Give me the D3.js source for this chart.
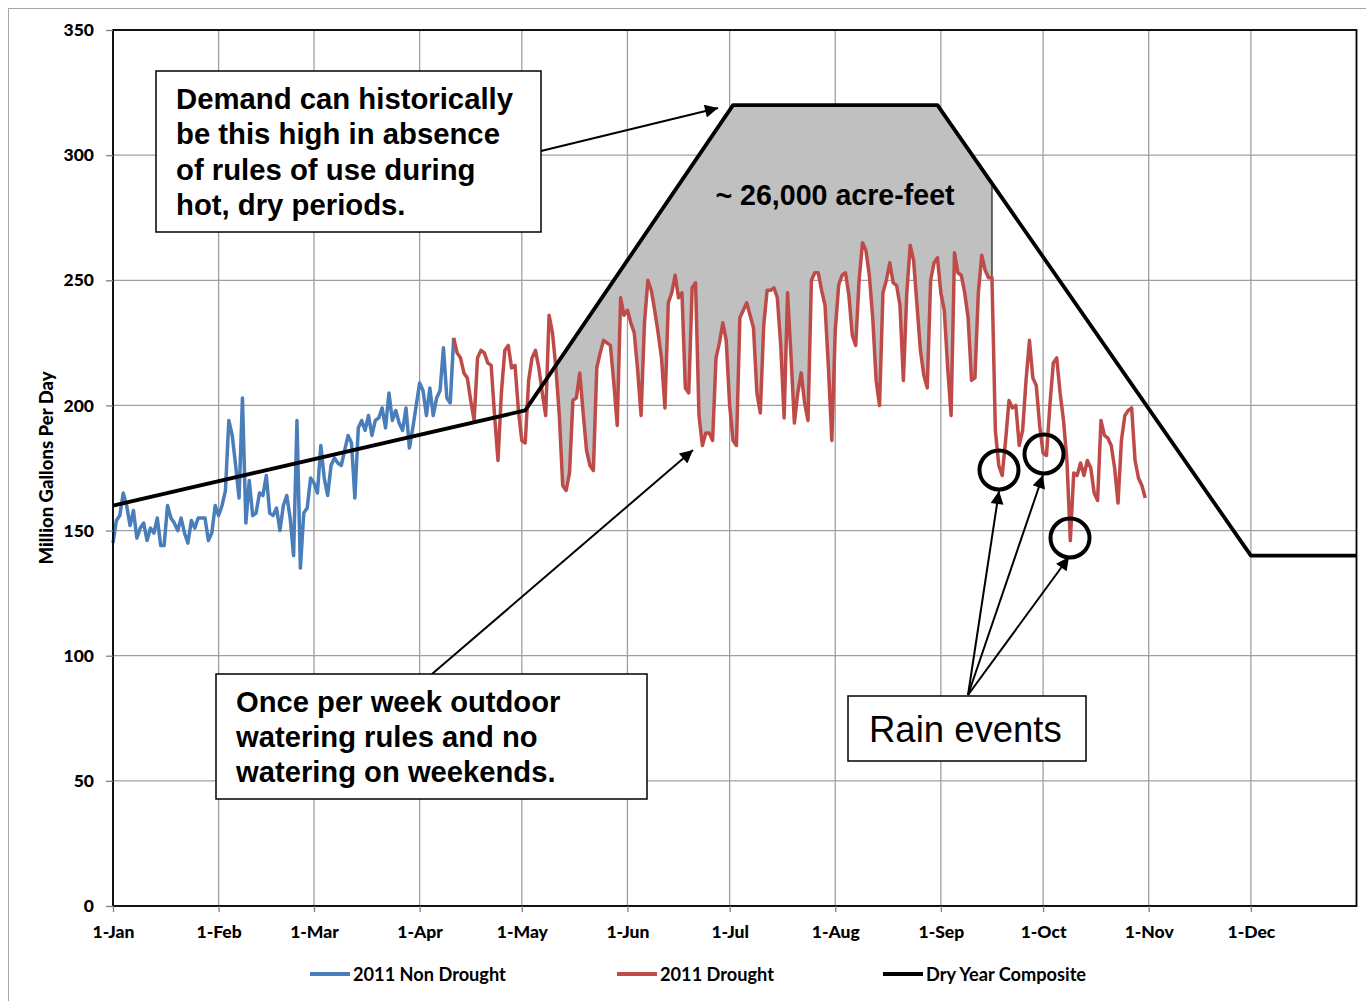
<!DOCTYPE html>
<html><head><meta charset="utf-8">
<script src="https://cdn.jsdelivr.net/npm/d3@7"></script>
<style>body{margin:0;background:#fff}svg{display:block}</style>
</head><body>
<svg id="c" width="1366" height="1001"></svg>
<script>
// ---------- data ----------
const monthTicks = ["2011-01-01","2011-02-01","2011-03-01","2011-04-01","2011-05-01","2011-06-01",
  "2011-07-01","2011-08-01","2011-09-01","2011-10-01","2011-11-01","2011-12-01"];
const yTicks = [0,50,100,150,200,250,300,350];
const seriesNames = ["2011 Non Drought","2011 Drought","Dry Year Composite"];
const seriesColors = ["#4a7ebb","#be4b48","#000000"];

const nonDroughtStart = "2011-01-01";
const nonDrought = [
  145,154,156,165,160,152,158,147,151,153,
  146,151,149,155,144,144,160,155,153,150,
  155,149,145,154,151,155,155,155,146,149,
  160,156,160,166,194,188,176,163,203,153,
  170,156,157,165,164,172,157,156,159,150,
  160,164,155,140,194,135,157,159,171,169,
  165,184,171,164,176,179,177,176,182,188,
  185,163,191,194,190,196,188,194,195,199,
  191,205,194,198,193,190,199,183,191,200,
  209,206,196,207,196,203,206,223,203,201,
  227];

const droughtStart = "2011-04-11";
const drought = [
  227,221,219,213,211,202,194,219,222,221,
  217,216,196,178,205,222,224,215,216,198,
  186,185,210,219,222,215,205,196,236,229,
  215,196,168,166,173,202,203,213,197,182,
  176,174,215,221,226,225,224,209,192,243,
  236,238,233,229,214,196,233,250,246,238,
  229,219,199,241,245,252,243,245,207,205,
  247,249,196,184,189,189,186,219,225,233,
  226,200,186,184,235,238,241,236,231,205,
  197,232,246,246,247,243,224,195,245,220,
  193,205,213,201,194,250,253,253,246,240,
  215,186,230,248,252,253,244,228,224,250,
  265,262,252,235,210,200,245,250,257,249,
  248,240,210,245,264,258,240,222,212,207,
  250,257,259,245,238,215,196,261,253,252,
  245,235,210,211,245,260,254,251,251,190,
  176,172,186,202,199,200,184,190,210,226,
  211,208,192,181,180,200,217,219,205,194,
  178,146,173,172,177,172,178,175,165,162,
  194,188,187,184,175,161,186,196,198,199,
  178,171,168,163];

const compositeDates = ["2011-01-01","2011-05-02","2011-07-02","2011-08-31","2011-12-01","2012-01-01"];
const compositeValues = [160,198,320,320,140,140];

const shadeFrom = "2011-05-11";
const shadeTo = "2011-09-16";
const shadeLabel = "~ 26,000 acre-feet";

// ---------- setup ----------
const parse = d3.utcParse("%Y-%m-%d");
const svg = d3.select("#c");
const L = 113, R = 1356.5, T = 30, B = 906;
const x = d3.scaleUtc().domain([parse("2011-01-01"), parse("2012-01-01")]).range([L, R]);
const y = d3.scaleLinear().domain([0, 350]).range([B, T]);

const blueData = nonDrought.map((v, i) => ({date: d3.utcDay.offset(parse(nonDroughtStart), i), v}));
const redData = drought.map((v, i) => ({date: d3.utcDay.offset(parse(droughtStart), i), v}));
const compData = compositeDates.map((d, i) => ({date: parse(d), v: compositeValues[i]}));
const compAt = d3.scaleUtc().domain(compData.map(d => d.date)).range(compData.map(d => d.v));

// outer chart border
svg.append("rect").attr("x", 8.5).attr("y", 8.5).attr("width", 1400).attr("height", 1100)
  .attr("fill", "none").attr("stroke", "#a6a6a6").attr("stroke-width", 1);

// gridlines
const grid = svg.append("g").attr("stroke", "#a0a0a0").attr("stroke-width", 1.3);
yTicks.forEach(t => grid.append("line").attr("x1", L).attr("x2", R).attr("y1", y(t)).attr("y2", y(t)));
monthTicks.forEach(t => grid.append("line").attr("x1", x(parse(t))).attr("x2", x(parse(t))).attr("y1", T).attr("y2", B));

// shaded area
const s0 = parse(shadeFrom), s1 = parse(shadeTo);
const shadeData = redData.filter(d => d.date >= s0 && d.date <= s1);
svg.append("path").datum(shadeData)
  .attr("fill", "#c0c0c0")
  .attr("d", d3.area().x(d => x(d.date))
    .y0(d => y(Math.min(d.v, compAt(d.date))))
    .y1(d => y(compAt(d.date))));
const lastShade = shadeData[shadeData.length - 1];
svg.append("line").attr("x1", x(lastShade.date)).attr("x2", x(lastShade.date))
  .attr("y1", y(compAt(lastShade.date))).attr("y2", y(lastShade.v))
  .attr("stroke", "#404040").attr("stroke-width", 1.5);

// series
const line = d3.line().x(d => x(d.date)).y(d => y(d.v));
svg.append("path").datum(blueData).attr("fill", "none").attr("stroke", seriesColors[0])
  .attr("stroke-width", 3.5).attr("stroke-linejoin", "round").attr("d", line);
svg.append("path").datum(redData).attr("fill", "none").attr("stroke", seriesColors[1])
  .attr("stroke-width", 3.5).attr("stroke-linejoin", "round").attr("d", line);
svg.append("path").datum(compData).attr("fill", "none").attr("stroke", seriesColors[2])
  .attr("stroke-width", 3.8).attr("stroke-linejoin", "round").attr("d", line);

// plot border
svg.append("rect").attr("x", L).attr("y", T).attr("width", R - L).attr("height", B - T)
  .attr("fill", "none").attr("stroke", "#000").attr("stroke-width", 1.8);

// axes
const fontAxis = "Lato, 'Noto Sans', sans-serif";
const xAxis = svg.append("g").attr("transform", `translate(0,${B})`)
  .call(d3.axisBottom(x).tickValues(monthTicks.map(parse)).tickFormat(d3.utcFormat("%-d-%b")).tickSize(6).tickPadding(14));
const yAxis = svg.append("g").attr("transform", `translate(${L},0)`)
  .call(d3.axisLeft(y).tickValues(yTicks).tickSize(7).tickPadding(12));
[xAxis, yAxis].forEach(a => {
  a.select(".domain").remove();
  a.selectAll(".tick line").attr("stroke", "#808080").attr("stroke-width", 1.3);
  a.selectAll("text").attr("font-family", fontAxis).attr("font-weight", 900)
    .attr("font-size", 17.5).attr("fill", "#000");
});
svg.append("text").attr("transform", "translate(53,468) rotate(-90)")
  .attr("text-anchor", "middle").attr("font-family", fontAxis).attr("font-weight", 900)
  .attr("font-size", 18.5).text("Million Gallons  Per Day");

// legend
const legX = [310, 617, 883];
seriesNames.forEach((n, i) => {
  svg.append("line").attr("x1", legX[i]).attr("x2", legX[i] + 40).attr("y1", 974).attr("y2", 974)
    .attr("stroke", seriesColors[i]).attr("stroke-width", 4);
  svg.append("text").attr("x", legX[i] + 43).attr("y", 980.5).attr("font-family", fontAxis)
    .attr("font-weight", "bold").attr("font-size", 18.2).text(n);
});

// arrow marker
const defs = svg.append("defs");
defs.append("marker").attr("id", "ah").attr("viewBox", "0 0 10 10").attr("refX", 10).attr("refY", 5)
  .attr("markerWidth", 18).attr("markerHeight", 13).attr("markerUnits", "userSpaceOnUse")
  .attr("orient", "auto").append("path").attr("d", "M0,0 L10,5 L0,10 Z").attr("fill", "#000");

function arrow(x1, y1, x2, y2) {
  svg.append("line").attr("x1", x1).attr("y1", y1).attr("x2", x2).attr("y2", y2)
    .attr("stroke", "#000").attr("stroke-width", 2).attr("marker-end", "url(#ah)");
}

// annotations
const fontAnn = "'Liberation Sans', Arial, sans-serif";
function box(x0, y0, w, h, lines, size, weight, lh, tx, ty) {
  svg.append("rect").attr("x", x0).attr("y", y0).attr("width", w).attr("height", h)
    .attr("fill", "#fff").attr("stroke", "#000").attr("stroke-width", 1.5);
  lines.forEach((t, i) => svg.append("text").attr("x", tx).attr("y", ty + i * lh)
    .attr("font-family", fontAnn).attr("font-weight", weight).attr("font-size", size).text(t));
}
arrow(541, 151, 718, 108);
box(156, 71, 385, 161, ["Demand can historically", "be this high in absence", "of rules of use during", "hot, dry periods."], 29.3, "bold", 35.3, 176, 109);

arrow(432, 674, 693, 450);
box(216, 674, 431, 125, ["Once per week outdoor", "watering rules and no", "watering on weekends."], 29.2, "bold", 35, 236, 712);

svg.append("text").attr("x", 835).attr("y", 205).attr("text-anchor", "middle")
  .attr("font-family", fontAnn).attr("font-weight", "bold").attr("font-size", 28.6).text(shadeLabel);

// rain event circles + arrows
const circles = [[999, 470], [1044, 454], [1070, 538]];
circles.forEach(([cx, cy]) => svg.append("circle").attr("cx", cx).attr("cy", cy).attr("r", 19.5)
  .attr("fill", "none").attr("stroke", "#000").attr("stroke-width", 4));
arrow(968, 695, 999, 491);
arrow(968, 695, 1043, 475);
arrow(968, 695, 1069, 557);
box(848, 696, 238, 65, ["Rain events"], 36.5, "normal", 0, 869, 742);
</script>
</body></html>
